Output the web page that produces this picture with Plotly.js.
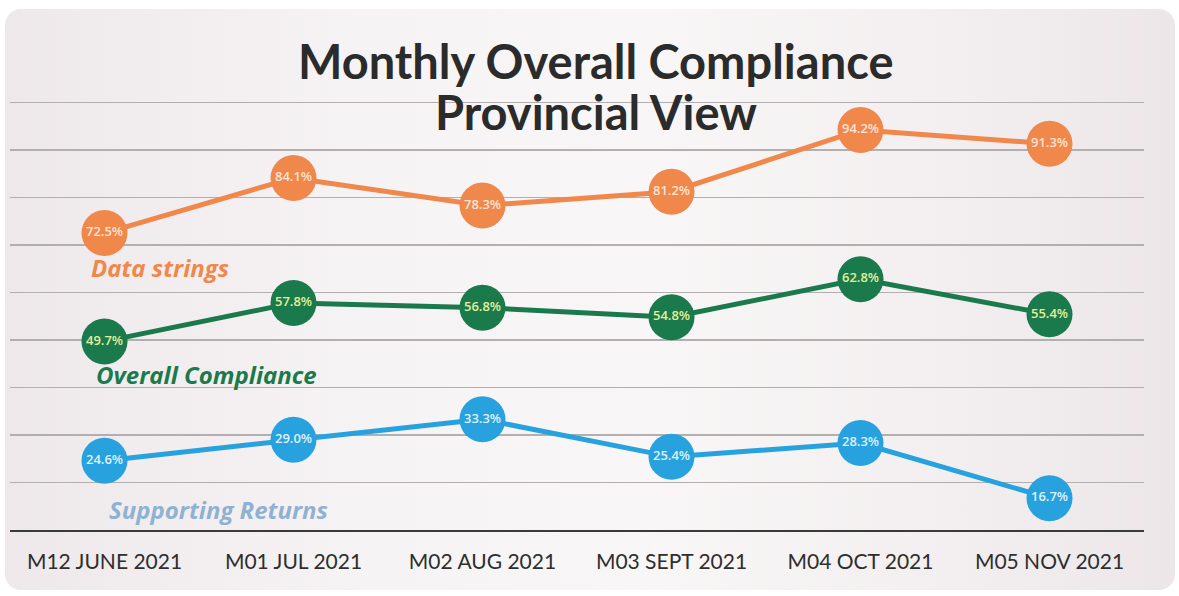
<!DOCTYPE html>
<html><head><meta charset="utf-8">
<script src="https://cdn.plot.ly/plotly-3.0.1.min.js"></script>
<style>
html,body{margin:0;padding:0;background:#ffffff;width:1179px;height:596px;overflow:hidden;}
#bg{position:absolute;left:5px;top:9px;width:1170px;height:581px;border-radius:16px;
background:linear-gradient(90deg,#eee8ea 0%,#f6f3f4 30%,#f8f6f6 55%,#f3eff0 80%,#ece6e8 100%);}
#chart{position:absolute;left:0;top:0;width:1179px;height:596px;}
</style></head>
<body><div id="bg"></div><div id="chart"></div>
<script>
const months = ["M12 JUNE 2021","M01 JUL 2021","M02 AUG 2021","M03 SEPT 2021","M04 OCT 2021","M05 NOV 2021"];
const dataStrings = [72.5, 84.1, 78.3, 81.2, 94.2, 91.3];
const overallCompliance = [49.7, 57.8, 56.8, 54.8, 62.8, 55.4];
const supportingReturns = [24.6, 29.0, 33.3, 25.4, 28.3, 16.7];
const seriesNames = ["Data strings","Overall Compliance","Supporting Returns"];
const titleLines = ["Monthly Overall Compliance","Provincial View"];

function fmt(a){return a.map(v=>v.toFixed(1)+"%");}
function tr(vals,color,txtColor){
  return {x:months,y:vals,type:"scatter",mode:"lines+markers+text",
    line:{color:color,width:5},
    marker:{size:46,color:color},
    text:fmt(vals),textposition:"middle center",
    textfont:{family:"Open Sans, sans-serif",size:13,color:txtColor,weight:600},
    hoverinfo:"skip",cliponaxis:false,showlegend:false};
}
const traces=[
  tr(dataStrings,"#f0874b","#fde3d3"),
  tr(overallCompliance,"#1b7a4b","#e2ee9c"),
  tr(supportingReturns,"#27a2df","#dff1fb")
];
const labelFont={family:"Open Sans, sans-serif",size:24};
const titleFont={family:"Lato, sans-serif",size:47,color:"#2b2b2b",weight:"bold"};
const layout={
  width:1179,height:596,
  paper_bgcolor:"rgba(0,0,0,0)",plot_bgcolor:"rgba(0,0,0,0)",
  margin:{l:10,r:35,t:101,b:66},
  xaxis:{type:"category",range:[-0.5,5.5],showgrid:false,zeroline:false,
    showline:true,linecolor:"#3a3a3a",linewidth:2,
    tickfont:{family:"Lato, sans-serif",size:21,color:"#2e2e2e"},ticks:"",ticklabelstandoff:12,fixedrange:true},
  yaxis:{range:[10,100.3],dtick:10,tick0:0,showticklabels:false,showgrid:true,gridcolor:"#b3aeaf",gridwidth:1.5,
    zeroline:false,showline:false,fixedrange:true},
  annotations:[
    {xref:"paper",yref:"paper",x:0.5168,y:1,xanchor:"center",yanchor:"middle",yshift:40,showarrow:false,
      text:"<b>"+titleLines[0]+"</b>",font:titleFont},
    {xref:"paper",yref:"paper",x:0.5168,y:1,xanchor:"center",yanchor:"middle",yshift:-11,showarrow:false,
      text:"<b>"+titleLines[1]+"</b>",font:titleFont},
    {xref:"x",yref:"y",x:0,y:dataStrings[0],xanchor:"left",showarrow:false,xshift:-16,yshift:-34,
      text:"<b><i>"+seriesNames[0]+"</i></b>",font:Object.assign({},labelFont,{color:"#f0874b"})},
    {xref:"x",yref:"y",x:0,y:overallCompliance[0],xanchor:"left",showarrow:false,xshift:-11,yshift:-33,
      text:"<b><i>"+seriesNames[1]+"</i></b>",font:Object.assign({},labelFont,{color:"#1b7a4b"})},
    {xref:"x",yref:"y",x:0,y:supportingReturns[0],xanchor:"left",showarrow:false,xshift:2,yshift:-49,
      text:"<b><i>"+seriesNames[2]+"</i></b>",font:Object.assign({},labelFont,{color:"#8fb2d3"})}
  ]
};
Plotly.newPlot("chart",traces,layout,{displayModeBar:false,staticPlot:true});
</script></body></html>
